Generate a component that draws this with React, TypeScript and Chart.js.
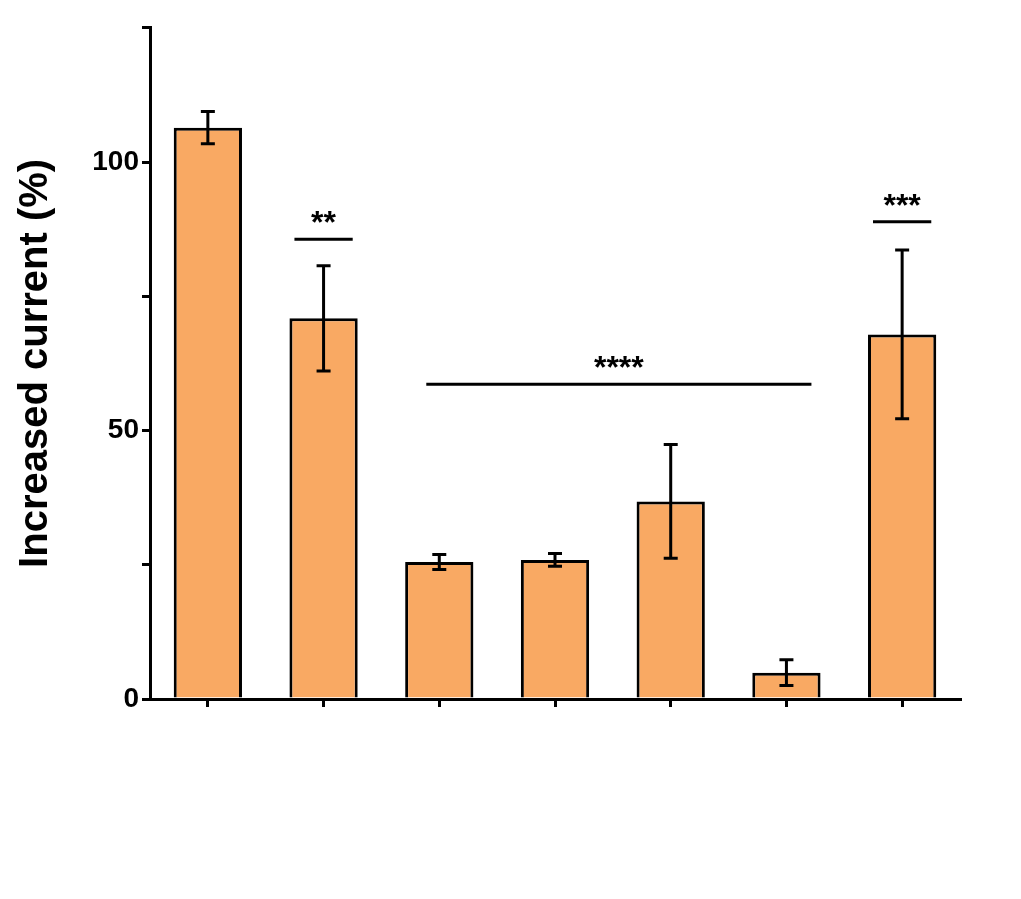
import React, { useEffect, useRef } from "react";
import { Chart, registerables } from "chart.js";
Chart.register(...registerables);

const categories = ["L-Lactate", "Glucose", "Glycine", "L-Alanine", "L-Cysteine", "Acetate", "D-Lactate"];
const values = [106.4, 70.9, 25.5, 25.9, 36.8, 4.9, 67.9];
const errors = [3.0, 9.8, 1.4, 1.2, 10.6, 2.4, 15.7];
const yTicks = [0, 50, 100];
// significance: [fromIndex, toIndex, yValue, label]
const sigs: [number, number, number, string][] = [
  [1, 1, 85.6, "**"],
  [6, 6, 88.9, "***"],
  [2, 5, 58.6, "****"],
];

export default function App() {
  const ref = useRef<HTMLCanvasElement>(null);
  useEffect(() => {
    const plugin = {
      id: "extras",
      afterDraw(chart: any) {
        const ctx = chart.ctx;
        const xs = chart.scales.x, ys = chart.scales.y;
        const meta = chart.getDatasetMeta(0);
        ctx.save();
        ctx.strokeStyle = "#000";
        ctx.lineWidth = 3;
        values.forEach((v, i) => {
          const x = xs.getPixelForValue(i);
          const y1 = ys.getPixelForValue(v + errors[i]);
          const y2 = ys.getPixelForValue(v - errors[i]);
          ctx.beginPath();
          ctx.moveTo(x, y1); ctx.lineTo(x, y2);
          ctx.moveTo(x - 7, y1); ctx.lineTo(x + 7, y1);
          ctx.moveTo(x - 7, y2); ctx.lineTo(x + 7, y2);
          ctx.stroke();
        });
        ctx.fillStyle = "#000";
        ctx.font = "bold 32px Arial, 'Liberation Sans'";
        ctx.textAlign = "center";
        ctx.textBaseline = "alphabetic";
        sigs.forEach(([a, b, val, lab]) => {
          const w = meta.data[a].width;
          let xa = xs.getPixelForValue(a) - w / 2 + 5;
          let xb = xs.getPixelForValue(b) + w / 2 - 5;
          if (a !== b) { xa = xs.getPixelForValue(a) - 13; xb = xs.getPixelForValue(b) + 25; }
          const y = ys.getPixelForValue(val);
          ctx.beginPath(); ctx.moveTo(xa, y); ctx.lineTo(xb, y); ctx.stroke();
          ctx.fillText(lab, (xa + xb) / 2, y - 6);
        });
        ctx.font = "bold 28px Arial, 'Liberation Sans'";
        ctx.textAlign = "left";
        ctx.textBaseline = "middle";
        categories.forEach((c, i) => {
          const x = xs.getPixelForValue(i) - 27;
          const y = xs.bottom + 38;
          ctx.save();
          ctx.translate(x, y);
          ctx.rotate(Math.PI / 4);
          ctx.fillText(c, 0, 0);
          ctx.restore();
        });
        ctx.restore();
      },
    };
    const chart = new Chart(ref.current!, {
      type: "bar",
      data: {
        labels: categories,
        datasets: [{
          data: values,
          backgroundColor: "#F9A963",
          borderColor: "#000",
          borderWidth: 3,
          barPercentage: 0.59,
          categoryPercentage: 1,
        }],
      },
      plugins: [plugin],
      options: {
        animation: false,
        responsive: false,
        layout: { padding: { top: -12, right: 53, left: 0, bottom: 0 } },
        plugins: { legend: { display: false }, tooltip: { enabled: false } },
        scales: {
          x: {
            grid: { display: true, offset: false, drawOnChartArea: false, color: "#000", lineWidth: 3, tickLength: 8 },
            border: { color: "#000", width: 3 },
            ticks: { display: false },
            afterFit: (s: any) => { s.height = 192; },
          },
          y: {
            min: 0, max: 125,
            grid: { drawOnChartArea: false, color: "#000", lineWidth: 3, tickLength: 8 },
            border: { color: "#000", width: 3 },
            ticks: {
              stepSize: 25,
              color: "#000",
              font: { family: "Arial, 'Liberation Sans'", weight: "bold", size: 28 },
              callback: (v: any) => (yTicks.includes(v) ? String(v) : ""),
            },
            title: {
              display: true,
              text: "Increased current (%)",
              color: "#000",
              font: { family: "Arial, 'Liberation Sans'", weight: "bold", size: 40 },
              padding: { bottom: 4 },
            },
            afterFit: (s: any) => { s.width = 142; },
          },
        },
      },
    } as any);
    return () => chart.destroy();
  }, []);
  return <canvas ref={ref} width={1005} height={883} style={{ display: "block" }} />;
}
